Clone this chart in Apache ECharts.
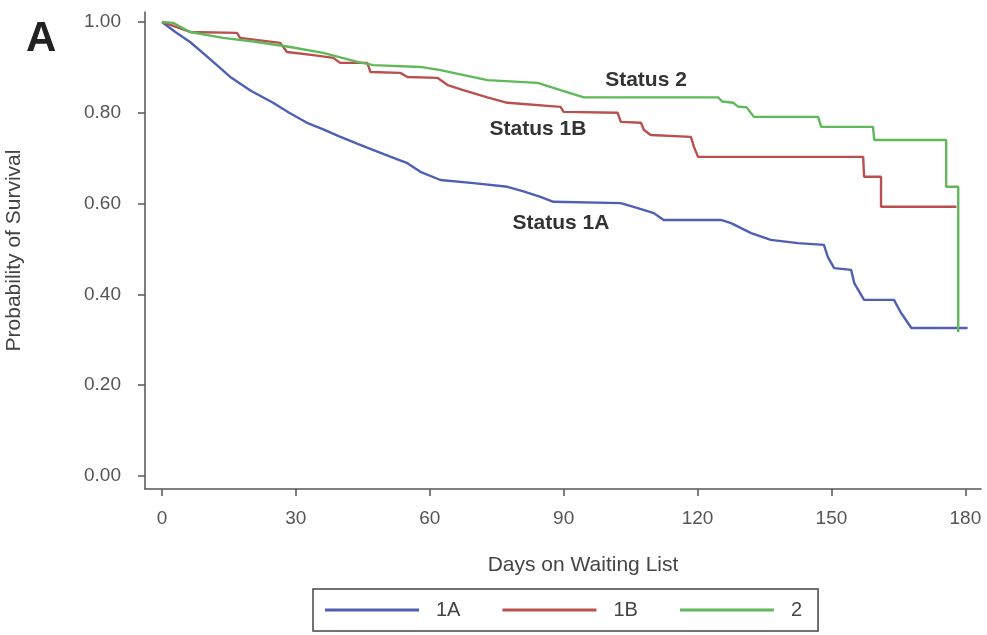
<!DOCTYPE html>
<html>
<head>
<meta charset="utf-8">
<script src="https://cdn.jsdelivr.net/npm/echarts@6/dist/echarts.min.js"></script>
<style>
  html, body { margin: 0; padding: 0; background: #ffffff; }
  #chart { width: 987px; height: 635px; }
</style>
</head>
<body>
<div id="chart"></div>
<script>
// Kaplan-Meier waiting-list survival by status, [days, probability] vertices
const status1A = [
  [0, 1.0], [3, 0.978], [6.3, 0.956], [10, 0.925], [15.3, 0.879], [20, 0.848],
  [24.9, 0.822], [28.5, 0.800], [32.5, 0.778], [36, 0.764], [40, 0.747],
  [44, 0.731], [47.4, 0.718], [51, 0.704], [55, 0.689], [57.9, 0.670],
  [62.4, 0.652], [69.8, 0.645], [77.4, 0.637], [81, 0.627], [84.8, 0.615],
  [87.7, 0.604], [102.8, 0.601], [106.6, 0.590], [110.2, 0.579], [112.4, 0.564],
  [125.2, 0.564], [127.5, 0.557], [132, 0.535], [136.4, 0.520], [142.5, 0.513],
  [148.3, 0.509], [149.2, 0.482], [150.6, 0.458], [154.4, 0.454], [155.1, 0.425],
  [157.3, 0.388], [164, 0.388], [165.6, 0.359], [167.9, 0.326], [180.5, 0.326]
];
const status1B = [
  [0, 1.0], [6.3, 0.978], [16.8, 0.976], [17.5, 0.965], [26.5, 0.954], [28, 0.934],
  [33.9, 0.927], [38.4, 0.921], [39.9, 0.910], [46, 0.910], [46.7, 0.890],
  [53.4, 0.888], [55, 0.879], [61.7, 0.877], [64, 0.861], [67.5, 0.850],
  [72.9, 0.834], [77.4, 0.822], [89.3, 0.813], [90, 0.802], [102.1, 0.800],
  [102.8, 0.780], [107.3, 0.778], [108, 0.762], [109.5, 0.751], [118.5, 0.747],
  [119.2, 0.725], [120.1, 0.703], [157.1, 0.703], [157.3, 0.659], [161.1, 0.659],
  [161.1, 0.593], [178, 0.593]
];
const status2 = [
  [0, 1.0], [2.5, 0.998], [6.3, 0.978], [13.7, 0.965], [21.3, 0.956], [28.7, 0.945],
  [36.1, 0.932], [43.8, 0.912], [47.4, 0.905], [57.9, 0.901], [62.4, 0.894],
  [65.3, 0.888], [72.9, 0.872], [84.2, 0.866], [87.7, 0.855], [94.5, 0.834],
  [124.6, 0.834], [125.5, 0.825], [128, 0.822], [129, 0.814], [131, 0.812],
  [132.6, 0.791], [147, 0.791], [147.7, 0.769], [159.3, 0.769], [159.6, 0.740],
  [175.7, 0.740], [175.7, 0.637], [178.4, 0.637], [178.4, 0.317]
];

const seriesNames = ['1A', '1B', '2'];
const seriesColors = ['#4f60b4', '#b9504f', '#5fb95a'];
const xTicks = [0, 30, 60, 90, 120, 150, 180];
const yTicks = [0, 0.2, 0.4, 0.6, 0.8, 1.0];
const curveLabels = ['Status 2', 'Status 1B', 'Status 1A'];

const axisColor = '#555555';
const fontFamily = '"Liberation Sans", Arial, sans-serif';
const labelFont = 'bold 21px "Liberation Sans", Arial, sans-serif';

const chart = echarts.init(document.getElementById('chart'), null, { renderer: 'canvas' });

function curve(name, data, color) {
  return {
    name: name,
    type: 'line',
    data: data,
    showSymbol: false,
    symbol: 'none',
    lineStyle: { color: color, width: 2.4 },
    itemStyle: { color: color },
    animation: false
  };
}

chart.setOption({
  backgroundColor: '#ffffff',
  animation: false,
  grid: {
    left: 145, right: 6, top: 12, bottom: 146,
    containLabel: false,
    outerBoundsMode: 'none'
  },
  xAxis: {
    type: 'value',
    min: -3.8,
    max: 183.5,
    name: 'Days on Waiting List',
    nameLocation: 'middle',
    nameGap: 66,
    nameTextStyle: { color: '#444', fontSize: 21, fontFamily: fontFamily, padding: [0, 0, 0, 40] },
    axisLine: { onZero: false, lineStyle: { color: axisColor, width: 1.5 } },
    axisTick: { customValues: xTicks, length: 7, lineStyle: { color: axisColor, width: 1.5 } },
    axisLabel: {
      customValues: xTicks,
      margin: 20,
      color: '#555',
      fontSize: 19,
      fontFamily: fontFamily
    },
    splitLine: { show: false }
  },
  yAxis: {
    type: 'value',
    min: -0.0286,
    max: 1.022,
    name: 'Probability of Survival',
    nameLocation: 'middle',
    nameGap: 120,
    nameRotate: 90,
    nameTextStyle: { color: '#444', fontSize: 21, fontFamily: fontFamily },
    axisLine: { show: true, onZero: false, lineStyle: { color: axisColor, width: 1.5 } },
    axisTick: { show: true, customValues: yTicks, length: 7, lineStyle: { color: axisColor, width: 1.5 } },
    axisLabel: {
      customValues: yTicks,
      margin: 24,
      color: '#555',
      fontSize: 19,
      fontFamily: fontFamily,
      formatter: v => v.toFixed(2)
    },
    splitLine: { show: false }
  },
  legend: {
    data: seriesNames,
    left: 313,
    top: 589,
    orient: 'horizontal',
    icon: 'rect',
    itemWidth: 94,
    itemHeight: 3,
    itemGap: 42,
    padding: [11, 16, 11, 12],
    borderColor: '#444',
    borderWidth: 1.5,
    borderRadius: 0,
    textStyle: { color: '#444', fontSize: 20, fontFamily: fontFamily, padding: [0, 0, 0, 12] }
  },
  graphic: [
    {
      type: 'text', left: 26, top: 18,
      style: { text: 'A', fill: '#222', font: 'bold 42px "Liberation Sans", Arial, sans-serif' }
    },
    {
      type: 'text', x: 646, y: 80,
      style: { text: curveLabels[0], fill: '#333', align: 'center', verticalAlign: 'middle', font: labelFont }
    },
    {
      type: 'text', x: 538, y: 129,
      style: { text: curveLabels[1], fill: '#333', align: 'center', verticalAlign: 'middle', font: labelFont }
    },
    {
      type: 'text', x: 561, y: 223,
      style: { text: curveLabels[2], fill: '#333', align: 'center', verticalAlign: 'middle', font: labelFont }
    }
  ],
  series: [
    curve(seriesNames[0], status1A, seriesColors[0]),
    curve(seriesNames[1], status1B, seriesColors[1]),
    curve(seriesNames[2], status2, seriesColors[2])
  ]
});
</script>
</body>
</html>
